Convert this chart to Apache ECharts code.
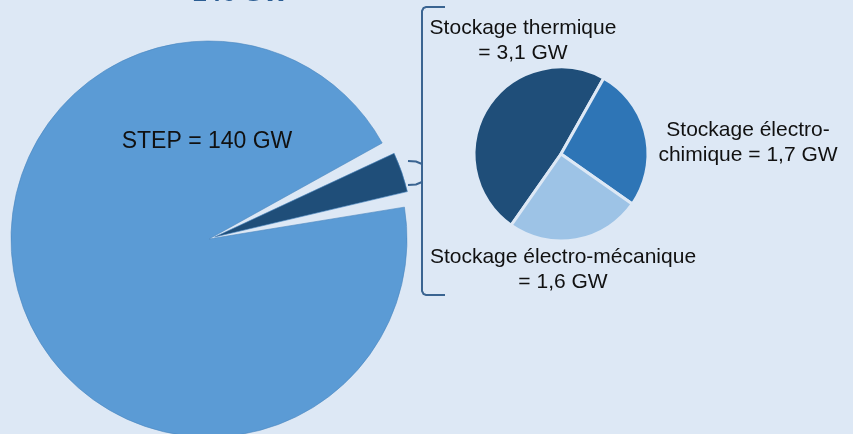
<!DOCTYPE html>
<html><head><meta charset="utf-8">
<script src="https://cdn.jsdelivr.net/npm/echarts@6/dist/echarts.min.js"></script>
<style>html,body{margin:0;padding:0;background:#dde8f5}#c{width:853px;height:434px}</style>
</head><body><div id="c"></div>
<script>
// Data
const totalLabel = '146 GW';
const mainNames = ['Autres stockages', 'STEP'];
const mainValues = [6.4, 140];
const subNames = ['Stockage thermique', 'Stockage électro-chimique', 'Stockage électro-mécanique'];
const subValues = [3.1, 1.7, 1.6];
const subLabelLines = [['Stockage thermique', '= 3,1 GW'], ['Stockage électro-', 'chimique = 1,7 GW'], ['Stockage électro-mécanique', '= 1,6 GW']];
const stepLabel = 'STEP = 140 GW';

const BG = '#dde8f5';
const FONT = '"Liberation Sans", Arial, sans-serif';
const chart = echarts.init(document.getElementById('c'), null, {renderer: 'canvas'});

const subLabelPos = [[523, 41], [748, 143], [563, 270]];
const graphics = [];
graphics.push({type: 'text', z: 100, x: 240, y: 0, style: {text: totalLabel, x: 0, y: -6.5, textAlign: 'center', textVerticalAlign: 'middle', fill: '#2b5d93', font: 'bold 26px ' + FONT}});
graphics.push({type: 'text', z: 100, style: {text: stepLabel, x: 207, y: 142, textAlign: 'center', textVerticalAlign: 'middle', fill: '#111', font: '23px ' + FONT}});
subLabelLines.forEach((lines, i) => {
  graphics.push({type: 'text', z: 100, style: {text: lines.join('\n'), x: subLabelPos[i][0], y: subLabelPos[i][1], textAlign: 'center', textVerticalAlign: 'middle', lineHeight: 25, fill: '#111', font: '21px ' + FONT}});
});
// bracket
const bc = '#3a6491';
graphics.push({type: 'polyline', z: 100, shape: {points: [[445, 7], [426, 7], [423.5, 8], [422, 11], [422, 291], [423.5, 294], [426, 295], [445, 295]]}, style: {fill: null, stroke: bc, lineWidth: 2}});
graphics.push({type: 'polyline', z: 100, shape: {points: [[408, 161], [416, 161.5], [422, 164]]}, style: {fill: null, stroke: bc, lineWidth: 2}});
graphics.push({type: 'polyline', z: 100, shape: {points: [[408, 185], [416, 184.5], [422, 182]]}, style: {fill: null, stroke: bc, lineWidth: 2}});

chart.setOption({
  backgroundColor: BG,
  animation: false,
  graphic: graphics,
  series: [
    {
      type: 'pie', center: [209, 239], radius: 198, startAngle: 27,
      padAngle: 4, selectedMode: 'single', selectedOffset: 6,
      label: {show: false}, labelLine: {show: false}, emphasis: {disabled: true},
      itemStyle: {borderColor: '#4a86c0', borderWidth: 0.6},
      data: mainNames.map((n, i) => ({name: n, value: mainValues[i], selected: i === 0,
        itemStyle: {color: i === 0 ? '#1f4e79' : '#5b9bd5'}, select: {itemStyle: {color: '#1f4e79'}}}))
    },
    {
      type: 'pie', center: [561, 154], radius: 87, startAngle: 235,
      label: {show: false}, labelLine: {show: false}, emphasis: {disabled: true},
      itemStyle: {borderColor: BG, borderWidth: 3},
      data: subNames.map((n, i) => ({name: n, value: subValues[i], itemStyle: {color: ['#1f4e79', '#2e75b6', '#9dc3e6'][i]}}))
    }
  ]
});
</script></body></html>
